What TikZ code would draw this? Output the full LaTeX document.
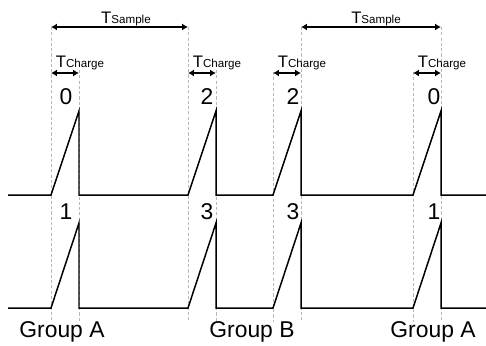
\documentclass[tikz,border=0pt]{standalone}
\usepackage{fontspec}
\setmainfont{Liberation Sans}
\usetikzlibrary{arrows.meta,positioning}

\newcommand{\Tsub}[1]{{\fontsize{9.5}{10}\selectfont T}{\fontsize{6.6}{7}\selectfont #1}}

\begin{document}
\begin{tikzpicture}[x=0.02cm,y=-0.02cm,>={Latex[length=3.4pt,width=4pt]},
  wave/.style={line width=0.85pt,line join=miter},
  guide/.style={gray!55,line width=0.4pt,dash pattern=on 1.8pt off 1.2pt},
  span/.style={<->,line width=0.75pt},
  num/.style={font=\fontsize{13}{13}\selectfont,anchor=base,inner sep=0pt},
  grp/.style={font=\fontsize{13}{13}\selectfont,anchor=base,inner sep=0pt},
  tlab/.style={anchor=base,inner sep=0pt}]
\useasboundingbox (0,0) rectangle (486,345);

% guide lines and charge spans
\foreach \i/\s/\p/\ts/\tp in {1/51/79/27/70,2/188/216/27/70,3/273/301/72/27,4/413/441/72/27} {
  \coordinate (s\i) at (\s,\ts);
  \coordinate (p\i) at (\p,\tp);
  \draw[guide] (s\i) -- (\s,322);
  \draw[guide] (p\i) -- (\p,322);
  \coordinate (ca\i) at (\s,73);
  \coordinate (cb\i) at (\p,73);
  \draw[span] (ca\i) -- (cb\i);
  \node[tlab] (tc\i) at (\p+1,67) {\Tsub{Charge}};
}

% sample spans
\draw[span] (s1) -- (s2);
\draw[span] (p3) -- (p4);
\node[tlab] (ts1) at (126,23) {\Tsub{Sample}};
\node[tlab] (ts2) at (376,23) {\Tsub{Sample}};

% waveforms
\foreach \b/\h in {195/111,308/223}
  \draw[wave] (8,\b) -- (51,\b) -- (79,\h) -- (79,\b) -- (188,\b) -- (216,\h) -- (216,\b)
    -- (273,\b) -- (301,\h) -- (301,\b) -- (413,\b) -- (441,\h) -- (441,\b) -- (486,\b);

% channel numbers
\foreach \i/\x/\u/\l in {1/66/0/1,2/207/2/3,3/293/2/3,4/434/0/1} {
  \node[num] (n\i) at (\x,104) {\u};
  \node[num] (m\i) at (\x,219) {\l};
}

\node[grp] (ga) at (62,337) {Group A};
\node[grp] (gb) at (252,337) {Group B};
\node[grp] (gc) at (433,337) {Group A};
\end{tikzpicture}
\end{document}
